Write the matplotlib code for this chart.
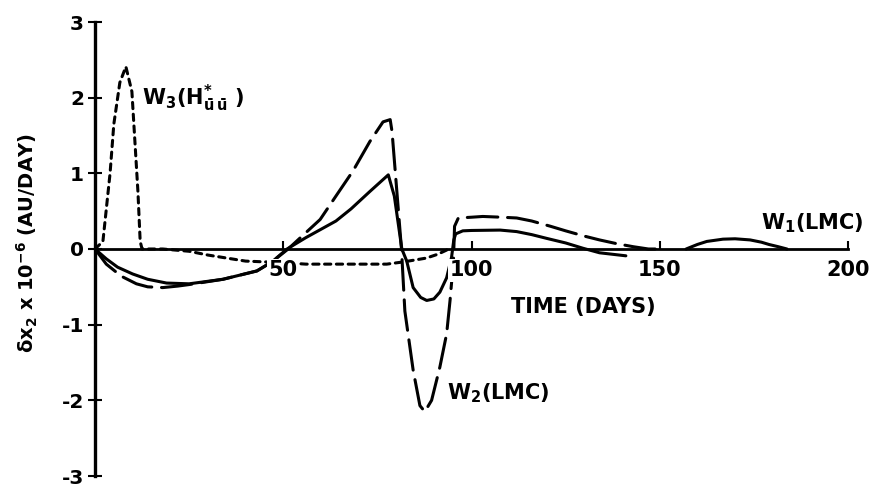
import matplotlib
matplotlib.use("Agg")
import matplotlib.pyplot as plt
import numpy as np

plt.rcParams['font.family'] = ['DejaVu Sans']
plt.rcParams['font.weight'] = 'bold'
plt.rcParams['mathtext.fontset'] = 'dejavusans'
plt.rcParams['mathtext.default'] = 'bf'
plt.rcParams['lines.scale_dashes'] = False

# W1 (LMC) - solid
w1_days = [0, 3, 6, 10, 14, 19, 25, 34, 43, 47, 51, 56, 60, 64, 68, 73, 77.9,
           79.5, 81.5, 82.8, 84.5, 86.5, 88.1, 90, 91.6, 93.4, 94.7, 95.3, 95.8,
           97.7, 100, 107.6, 112, 116, 120, 125, 129.6, 134, 141]
w1_vals = [0, -0.13, -0.24, -0.33, -0.40, -0.45, -0.46, -0.40, -0.29, -0.17, 0,
           0.15, 0.26, 0.37, 0.53, 0.76, 0.98, 0.70, 0.0, -0.16, -0.51, -0.64,
           -0.68, -0.66, -0.57, -0.38, -0.11, 0.12, 0.2, 0.24, 0.245, 0.25, 0.23,
           0.19, 0.14, 0.08, 0.01, -0.05, -0.09]

# W1 second hump
w1b_days = [157, 160, 162.5, 166.8, 170, 174, 177, 179, 181.5, 183.8]
w1b_vals = [0, 0.06, 0.10, 0.13, 0.135, 0.12, 0.09, 0.06, 0.03, 0]

# W2 (LMC) - long dash
w2_days = [0, 3, 7, 11, 14, 18, 22, 25, 34, 43, 47, 51.3, 55, 59.8, 64, 68.5,
           73, 76.5, 78.4, 78.9, 81.4, 82.3, 84.5, 86.3, 87.6, 89.4, 91.6, 93.4,
           94.3, 95.2, 95.5, 96.5, 100, 103, 108, 112, 116, 121, 125, 130, 134,
           138.6, 143, 147, 150]
w2_vals = [0, -0.2, -0.36, -0.46, -0.5, -0.51, -0.49, -0.47, -0.40, -0.29, -0.17,
           0, 0.17, 0.39, 0.70, 1.03, 1.42, 1.68, 1.71, 1.55, 0.0, -0.82, -1.6,
           -2.07, -2.15, -2.0, -1.56, -1.12, -0.68, -0.16, 0.30, 0.41, 0.42, 0.43,
           0.42, 0.41, 0.37, 0.30, 0.24, 0.17, 0.12, 0.07, 0.03, 0.0, 0.0]

# W3 (H*uu) - short dash
w3_days = [0, 2.1, 4.0, 5.0, 6.6, 8.2, 9.8, 10.6, 11.4, 12.0, 12.5, 18, 25, 30,
           35, 40, 45, 50, 56, 65, 77.5, 82, 88, 91, 94]
w3_vals = [0, 0.1, 1.0, 1.65, 2.2, 2.41, 2.08, 1.42, 0.76, 0.1, 0, 0, -0.03,
           -0.08, -0.12, -0.16, -0.17, -0.18, -0.2, -0.2, -0.2, -0.17, -0.12,
           -0.07, 0]

x_ticks = [50, 100, 150, 200]
y_ticks = [-3, -2, -1, 0, 1, 2, 3]
y_tick_labels = ['-3', '-2', '-1', '0', '1', '2', '3']

fig = plt.figure(figsize=(8.8, 4.88), dpi=100)
ax = fig.add_axes([95 / 880, 1 - 476 / 488, (848 - 95) / 880, (476 - 22) / 488])

lw = 2.2
ax.plot(w1_days, w1_vals, color='black', lw=lw, solid_capstyle='round')
ax.plot(w1b_days, w1b_vals, color='black', lw=lw, solid_capstyle='round')
ax.plot(w2_days, w2_vals, color='black', lw=lw, dashes=(22, 7),
        dash_capstyle='round')
ax.plot(w3_days, w3_vals, color='black', lw=lw, dashes=(4.5, 4),
        dash_capstyle='round')

ax.set_xlim(0, 200)
ax.set_ylim(-3, 3)

# axes: vertical line at t=0, horizontal line through zero
for side in ['top', 'right']:
    ax.spines[side].set_visible(False)
ax.spines['left'].set_linewidth(2.4)
ax.spines['bottom'].set_position(('data', 0))
ax.spines['bottom'].set_linewidth(2.0)
ax.spines['bottom'].set_bounds(0, 200)
ax.set_axisbelow(False)

ax.set_xticks(x_ticks)
ax.set_xticklabels([str(t) for t in x_ticks])
ax.tick_params(axis='x', direction='in', length=6, width=1.5, pad=8,
               labelsize=15)
ax.set_yticks(y_ticks)
ax.set_yticklabels(y_tick_labels)
ax.tick_params(axis='y', direction='inout', length=10, width=1.5, pad=3,
               labelsize=14.5)
for lbl in ax.get_xticklabels():
    lbl.set_bbox(dict(facecolor='white', edgecolor='none', pad=1))
    lbl.set_fontweight('bold')
for lbl in ax.get_yticklabels():
    lbl.set_fontweight('bold')
ax.patch.set_visible(False)

ax.text(12.5, 1.99, r'W$_3$(H$^{*}_{\bar{u}\,\bar{u}}$ )', fontsize=15,
        fontweight='bold', va='center', ha='left')
ax.text(93.5, -1.9, r'W$_2$(LMC)', fontsize=15, fontweight='bold',
        va='center', ha='left')
ax.text(177, 0.34, r'W$_1$(LMC)', fontsize=15, fontweight='bold',
        va='center', ha='left')
ax.text(129.6, -0.76, 'TIME (DAYS)', fontsize=15, fontweight='bold',
        va='center', ha='center')

fig.text(27 / 880, 1 - 243 / 488, r'$\delta$x$_2$ x 10$^{-6}$ (AU/DAY)',
         rotation=90, fontsize=14, fontweight='bold', va='center', ha='center')

fig.savefig('out.png', dpi=100)
